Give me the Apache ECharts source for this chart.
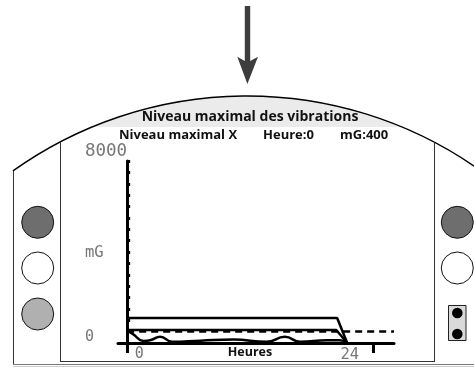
<!DOCTYPE html>
<html><head><meta charset="utf-8">
<style>html,body{margin:0;padding:0;background:#fff}#c{width:474px;height:367px}</style>
<script src="https://cdn.jsdelivr.net/npm/echarts@6/dist/echarts.min.js"></script>
</head><body><div id="c"></div>
<script>
const titleText = 'Niveau maximal des vibrations';
const infoTexts = ['Niveau maximal X', 'Heure:0', 'mG:400'];
const xTickValues = [0, 26.8];
const xLabelValues = [0, 24];
const yLabelValues = [0, 8000];
const upperLine = [[0, 1100], [22.9, 1100], [24, 0]];
const middleLine = [[0, 570], [22.8, 570], [24, 0]];
const dashedLine = [[0, 510], [29.1, 510]];
const waveLine = [[0, 540], [0.6, 400], [1.8, 90], [2.6, 130], [3.6, 280], [4.9, 50], [8, 100], [11.6, 150], [15.2, 50], [17.2, 270], [18.9, 50], [21.8, 120], [23.2, 120], [24, 0]];

const font = '"Open Sans", "Noto Sans", sans-serif';
const mono = '"DejaVu Sans Mono", monospace';
const ink = '#000';
const chart = echarts.init(document.getElementById('c'), null, {renderer: 'canvas'});

function text(x, y, s, size, align) {
  return {type: 'text', x, y, z: 5, style: {text: s, font: `bold ${size}px ${font}`, fill: '#111', textAlign: align || 'left', textVerticalAlign: 'middle'}};
}
function disc(cx, cy, fill) {
  return {type: 'circle', shape: {cx, cy, r: 16}, z: 3, style: {fill, stroke: '#111', lineWidth: 1}};
}
function line(x1, y1, x2, y2, stroke, lw) {
  return {type: 'line', shape: {x1, y1, x2, y2}, z: 2, style: {stroke, lineWidth: lw}};
}
const decoration = [
  {type: 'circle', shape: {cx: 247, cy: 499, r: 403}, z: 0, style: {fill: '#ebebeb'}},
  {type: 'rect', shape: {x: 0, y: 127, width: 474, height: 240}, z: 1, style: {fill: '#fff'}},
  {type: 'arc', shape: {cx: 247, cy: 499, r: 403, startAngle: -125.5 * Math.PI / 180, endAngle: -55.7 * Math.PI / 180, clockwise: true}, z: 2, style: {stroke: '#000', lineWidth: 1.4, fill: 'none'}},
  line(13.5, 171, 13.5, 365, '#333', 1),
  line(60.5, 142, 60.5, 362, '#333', 1),
  line(434.5, 142, 434.5, 362, '#333', 1),
  line(60, 361.5, 435, 361.5, '#333', 1),
  line(13, 364.5, 474, 364.5, '#777', 1),
  line(13, 366.5, 474, 366.5, '#ccc', 1),
  {type: 'polygon', shape: {points: [[244.8, 6], [250.2, 6], [250.2, 61], [258, 56.7], [247.4, 84], [237.3, 56.7], [244.8, 61]]}, z: 3, style: {fill: '#3d3d3d'}},
  disc(37.7, 222.3, '#6e6e6e'), disc(37.7, 268, '#fff'), disc(37.7, 314, '#b0b0b0'),
  disc(457.3, 222.3, '#6e6e6e'), disc(457.3, 268, '#fff'),
  {type: 'rect', shape: {x: 448.5, y: 305.5, width: 17.5, height: 35}, z: 3, style: {fill: '#d9d9d9', stroke: '#222', lineWidth: 1}},
  {type: 'circle', shape: {cx: 457.3, cy: 313, r: 5.3}, z: 4, style: {fill: '#000'}},
  {type: 'circle', shape: {cx: 457.3, cy: 334, r: 5.3}, z: 4, style: {fill: '#000'}},
  text(250, 117, titleText, 14, 'center'),
  text(119, 135.5, infoTexts[0], 13),
  text(263, 135.5, infoTexts[1], 13),
  text(340, 135.5, infoTexts[2], 13),
  {type: 'text', x: 85, y: 252.5, z: 5, style: {text: 'mG', font: `15.5px ${mono}`, fill: '#777', textVerticalAlign: 'middle'}}
];

function lineSeries(data, extra) {
  return Object.assign({type: 'line', data, symbol: 'none', clip: false, z: 6, lineStyle: {color: ink, width: 2.5}}, extra || {});
}
function labelStyle(size, padding) {
  return {fontFamily: mono, fontSize: size, color: '#777', padding};
}
chart.setOption({
  animation: false,
  backgroundColor: '#fff',
  graphic: decoration,
  grid: {left: 118, right: 80, top: 161, bottom: 24, containLabel: false, outerBoundsMode: 'none'},
  xAxis: {
    type: 'value', min: -1, max: 29.1, splitLine: {show: false}, z: 6,
    axisLine: {onZero: false, lineStyle: {color: ink, width: 3}},
    axisTick: {show: true, customValues: xTickValues, length: 10, lineStyle: {color: ink, width: 3}},
    axisLabel: {
      show: true, customValues: xLabelValues, margin: 4, hideOverlap: false, showMinLabel: true, showMaxLabel: true,
      formatter: v => v === 0 ? '{z|0}' : '{t|24}',
      rich: {z: labelStyle(15, [0, 0, 0, 24]), t: labelStyle(15.5, [0, 0, 0, 5])}
    },
    name: 'Heures', nameLocation: 'middle', nameGap: 3, nameMoveOverlap: false,
    nameTextStyle: {fontWeight: 'bold', fontSize: 12.5, fontFamily: font, color: '#111', verticalAlign: 'top', padding: [0, 12, 0, 0]}
  },
  yAxis: {
    type: 'value', min: 0, max: 8000, interval: 500, splitLine: {show: false}, z: 6,
    axisLine: {onZero: true, lineStyle: {color: ink, width: 3}},
    axisTick: {show: true, inside: true, length: 3, lineStyle: {color: ink, width: 3}},
    axisLabel: {
      show: true, customValues: yLabelValues, margin: 33, align: 'left', verticalAlign: 'middle', showMinLabel: true, showMaxLabel: true,
      formatter: v => v === 0 ? '{z|0}' : '{t|8000}',
      rich: {z: labelStyle(15, [0, 0, 11, 0]), t: labelStyle(17.5, [0, 0, 19, 0])}
    }
  },
  series: [
    lineSeries(upperLine),
    lineSeries(middleLine),
    lineSeries(dashedLine, {lineStyle: {color: ink, width: 2.5, type: [7, 5]}}),
    lineSeries(waveLine, {smooth: 0.5})
  ]
});
</script></body></html>
